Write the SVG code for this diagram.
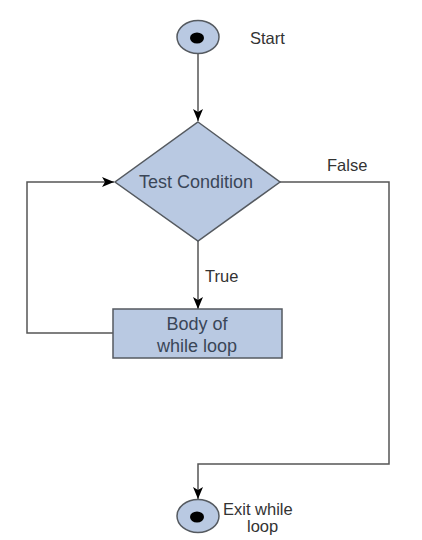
<svg xmlns="http://www.w3.org/2000/svg" width="422" height="540" viewBox="0 0 422 540">
<style>
.shape{fill:#b9c9e2;stroke:#555a60;stroke-width:1.5}
.dot{fill:#000}
.line{fill:none;stroke:#555555;stroke-width:1.5}
.lbl{font-family:"Liberation Sans",Arial,sans-serif;font-size:16.5px;fill:#333}
.in{font-family:"Liberation Sans",Arial,sans-serif;font-size:18px;fill:#3a4658;text-anchor:middle}
</style>
<defs>
<marker id="arr" viewBox="0 0 12 10" refX="12" refY="5" markerWidth="12" markerHeight="10" markerUnits="userSpaceOnUse" orient="auto">
<path d="M0,0 L12,5 L0,10 L3,5 Z" fill="#000"/>
</marker>
</defs>
<g id="connectors">
<line class="line" x1="198" y1="54" x2="198" y2="121" marker-end="url(#arr)"/>
<line class="line" x1="198" y1="241" x2="198" y2="309" marker-end="url(#arr)"/>
<polyline class="line" points="113,333 27,333 27,182 114,182" marker-end="url(#arr)"/>
<polyline class="line" points="280,182 389,182 389,464 198,464 198,499" marker-end="url(#arr)"/>
<text class="lbl" x="205" y="282">True</text>
<text class="lbl" x="327" y="171">False</text>
</g>
<g id="start">
<ellipse class="shape" cx="198" cy="37" rx="21" ry="16.5"/>
<ellipse class="dot" cx="197" cy="38" rx="7" ry="5.5"/>
<text class="lbl" x="250" y="44">Start</text>
</g>
<g id="test">
<polygon class="shape" points="198,122 280,182 198,241 115,182"/>
<text class="in" x="196" y="188" font-size="19">Test Condition</text>
</g>
<g id="body">
<rect class="shape" x="113" y="309" width="169" height="49"/>
<text class="in" x="197" y="330">Body of</text>
<text class="in" x="197" y="352">while loop</text>
</g>
<g id="exit">
<ellipse class="shape" cx="198" cy="516" rx="21" ry="16.5"/>
<ellipse class="dot" cx="197" cy="517" rx="7" ry="5.5"/>
<text class="lbl" x="223" y="515">Exit while</text>
<text class="lbl" x="247" y="532">loop</text>
</g>
</svg>
